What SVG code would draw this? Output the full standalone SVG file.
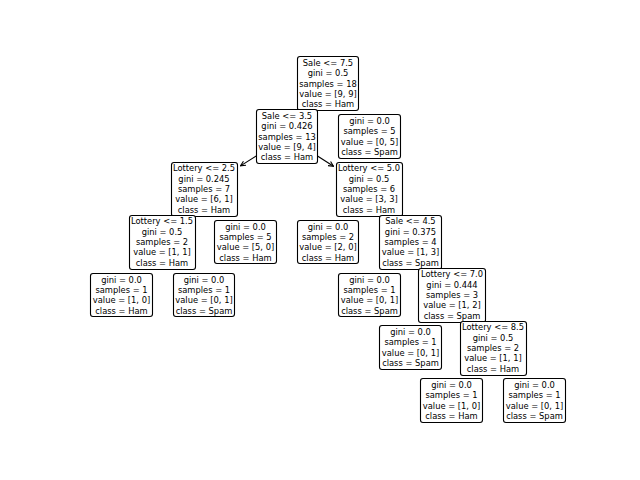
<svg xmlns="http://www.w3.org/2000/svg" width="640" height="480" viewBox="0 0 640 480">
  <style>
    .box { fill: #ffffff; stroke: #000000; stroke-width: 1.1; }
    .lbl { font-family: "DejaVu Sans", "Liberation Sans", sans-serif; font-size: 8.33px; text-anchor: middle; fill: #000000; }
    .edge { stroke: #000000; stroke-width: 1.1; fill: none; }
  </style>
  <defs>
    <marker id="head" viewBox="0 0 6 6" refX="5.5" refY="3" markerWidth="6" markerHeight="6" markerUnits="userSpaceOnUse" orient="auto">
      <path d="M0.5,0.6 L5.5,3 L0.5,5.4" fill="none" stroke="#000000" stroke-width="1.1"/>
    </marker>
  </defs>
  <rect width="640" height="480" fill="#ffffff"/>

  <!-- split edges: each runs from the parent's centre to the child's box -->
  <g id="edges">
    <line class="edge" x1="328" y1="83.5" x2="308.3" y2="109" marker-end="url(#head)"/>
    <line class="edge" x1="328" y1="83.5" x2="348.4" y2="109.5" marker-end="url(#head)"/>
    <line class="edge" x1="287" y1="136.5" x2="240.5" y2="165.9" marker-end="url(#head)"/>
    <line class="edge" x1="287" y1="136.5" x2="333.5" y2="166.3" marker-end="url(#head)"/>
    <line class="edge" x1="204" y1="189" x2="183.4" y2="215" marker-end="url(#head)"/>
    <line class="edge" x1="204" y1="189" x2="224.5" y2="215.5" marker-end="url(#head)"/>
    <line class="edge" x1="162" y1="242" x2="141.5" y2="268.5" marker-end="url(#head)"/>
    <line class="edge" x1="162" y1="242" x2="183" y2="268.5" marker-end="url(#head)"/>
    <line class="edge" x1="369" y1="189" x2="348.5" y2="215.5" marker-end="url(#head)"/>
    <line class="edge" x1="369" y1="189" x2="389" y2="215" marker-end="url(#head)"/>
    <line class="edge" x1="410" y1="242" x2="389.5" y2="268.5" marker-end="url(#head)"/>
    <line class="edge" x1="410" y1="242" x2="430.6" y2="268" marker-end="url(#head)"/>
    <line class="edge" x1="452" y1="295" x2="431.8" y2="320.5" marker-end="url(#head)"/>
    <line class="edge" x1="452" y1="295" x2="472" y2="321" marker-end="url(#head)"/>
    <line class="edge" x1="493" y1="348" x2="472.9" y2="373.5" marker-end="url(#head)"/>
    <line class="edge" x1="493" y1="348" x2="513.1" y2="373.5" marker-end="url(#head)"/>
  </g>

  <!-- tree nodes, drawn in pre-order -->
  <g id="node0">
    <rect class="box" x="297.5" y="56.5" width="61" height="54" rx="2.5"/>
    <text class="lbl" x="328" y="65.9"><tspan x="328">Sale &lt;= 7.5</tspan><tspan x="328" dy="10.3">gini = 0.5</tspan><tspan x="328" dy="10.3">samples = 18</tspan><tspan x="328" dy="10.3">value = [9, 9]</tspan><tspan x="328" dy="10.3">class = Ham</tspan></text>
  </g>
  <g id="node1">
    <rect class="box" x="256.5" y="109.5" width="61" height="54" rx="2.5"/>
    <text class="lbl" x="287" y="118.9"><tspan x="287">Sale &lt;= 3.5</tspan><tspan x="287" dy="10.3">gini = 0.426</tspan><tspan x="287" dy="10.3">samples = 13</tspan><tspan x="287" dy="10.3">value = [9, 4]</tspan><tspan x="287" dy="10.3">class = Ham</tspan></text>
  </g>
  <g id="node2">
    <rect class="box" x="171.5" y="162.5" width="66" height="54" rx="2.5"/>
    <text class="lbl" x="204" y="171.4"><tspan x="204">Lottery &lt;= 2.5</tspan><tspan x="204" dy="10.3">gini = 0.245</tspan><tspan x="204" dy="10.3">samples = 7</tspan><tspan x="204" dy="10.3">value = [6, 1]</tspan><tspan x="204" dy="10.3">class = Ham</tspan></text>
  </g>
  <g id="node3">
    <rect class="box" x="129.5" y="215.5" width="66" height="54" rx="2.5"/>
    <text class="lbl" x="162" y="224.4"><tspan x="162">Lottery &lt;= 1.5</tspan><tspan x="162" dy="10.3">gini = 0.5</tspan><tspan x="162" dy="10.3">samples = 2</tspan><tspan x="162" dy="10.3">value = [1, 1]</tspan><tspan x="162" dy="10.3">class = Ham</tspan></text>
  </g>
  <g id="node4">
    <rect class="box" x="90.5" y="273.5" width="62" height="43" rx="2.5"/>
    <text class="lbl" x="121.5" y="282.6"><tspan x="121.5">gini = 0.0</tspan><tspan x="121.5" dy="10.3">samples = 1</tspan><tspan x="121.5" dy="10.3">value = [1, 0]</tspan><tspan x="121.5" dy="10.3">class = Ham</tspan></text>
  </g>
  <g id="node5">
    <rect class="box" x="173.5" y="273.5" width="61" height="43" rx="2.5"/>
    <text class="lbl" x="204" y="282.6"><tspan x="204">gini = 0.0</tspan><tspan x="204" dy="10.3">samples = 1</tspan><tspan x="204" dy="10.3">value = [0, 1]</tspan><tspan x="204" dy="10.3">class = Spam</tspan></text>
  </g>
  <g id="node6">
    <rect class="box" x="214.5" y="220.5" width="62" height="43" rx="2.5"/>
    <text class="lbl" x="245.5" y="229.6"><tspan x="245.5">gini = 0.0</tspan><tspan x="245.5" dy="10.3">samples = 5</tspan><tspan x="245.5" dy="10.3">value = [5, 0]</tspan><tspan x="245.5" dy="10.3">class = Ham</tspan></text>
  </g>
  <g id="node7">
    <rect class="box" x="336.5" y="162.5" width="66" height="54" rx="2.5"/>
    <text class="lbl" x="369" y="171.4"><tspan x="369">Lottery &lt;= 5.0</tspan><tspan x="369" dy="10.3">gini = 0.5</tspan><tspan x="369" dy="10.3">samples = 6</tspan><tspan x="369" dy="10.3">value = [3, 3]</tspan><tspan x="369" dy="10.3">class = Ham</tspan></text>
  </g>
  <g id="node8">
    <rect class="box" x="297.5" y="220.5" width="61" height="43" rx="2.5"/>
    <text class="lbl" x="328" y="229.6"><tspan x="328">gini = 0.0</tspan><tspan x="328" dy="10.3">samples = 2</tspan><tspan x="328" dy="10.3">value = [2, 0]</tspan><tspan x="328" dy="10.3">class = Ham</tspan></text>
  </g>
  <g id="node9">
    <rect class="box" x="379.5" y="215.5" width="62" height="54" rx="2.5"/>
    <text class="lbl" x="410.5" y="224.4"><tspan x="410.5">Sale &lt;= 4.5</tspan><tspan x="410.5" dy="10.3">gini = 0.375</tspan><tspan x="410.5" dy="10.3">samples = 4</tspan><tspan x="410.5" dy="10.3">value = [1, 3]</tspan><tspan x="410.5" dy="10.3">class = Spam</tspan></text>
  </g>
  <g id="node10">
    <rect class="box" x="338.5" y="273.5" width="62" height="43" rx="2.5"/>
    <text class="lbl" x="369.5" y="282.6"><tspan x="369.5">gini = 0.0</tspan><tspan x="369.5" dy="10.3">samples = 1</tspan><tspan x="369.5" dy="10.3">value = [0, 1]</tspan><tspan x="369.5" dy="10.3">class = Spam</tspan></text>
  </g>
  <g id="node11">
    <rect class="box" x="418.5" y="268.5" width="67" height="54" rx="2.5"/>
    <text class="lbl" x="452" y="277.4"><tspan x="452">Lottery &lt;= 7.0</tspan><tspan x="452" dy="10.3">gini = 0.444</tspan><tspan x="452" dy="10.3">samples = 3</tspan><tspan x="452" dy="10.3">value = [1, 2]</tspan><tspan x="452" dy="10.3">class = Spam</tspan></text>
  </g>
  <g id="node12">
    <rect class="box" x="379.5" y="325.5" width="62" height="44" rx="2.5"/>
    <text class="lbl" x="410.5" y="335.1"><tspan x="410.5">gini = 0.0</tspan><tspan x="410.5" dy="10.3">samples = 1</tspan><tspan x="410.5" dy="10.3">value = [0, 1]</tspan><tspan x="410.5" dy="10.3">class = Spam</tspan></text>
  </g>
  <g id="node13">
    <rect class="box" x="460.5" y="321.5" width="66" height="54" rx="2.5"/>
    <text class="lbl" x="493" y="330.4"><tspan x="493">Lottery &lt;= 8.5</tspan><tspan x="493" dy="10.3">gini = 0.5</tspan><tspan x="493" dy="10.3">samples = 2</tspan><tspan x="493" dy="10.3">value = [1, 1]</tspan><tspan x="493" dy="10.3">class = Ham</tspan></text>
  </g>
  <g id="node14">
    <rect class="box" x="420.5" y="378.5" width="62" height="44" rx="2.5"/>
    <text class="lbl" x="451.5" y="388.1"><tspan x="451.5">gini = 0.0</tspan><tspan x="451.5" dy="10.3">samples = 1</tspan><tspan x="451.5" dy="10.3">value = [1, 0]</tspan><tspan x="451.5" dy="10.3">class = Ham</tspan></text>
  </g>
  <g id="node15">
    <rect class="box" x="503.5" y="378.5" width="62" height="44" rx="2.5"/>
    <text class="lbl" x="534.5" y="388.1"><tspan x="534.5">gini = 0.0</tspan><tspan x="534.5" dy="10.3">samples = 1</tspan><tspan x="534.5" dy="10.3">value = [0, 1]</tspan><tspan x="534.5" dy="10.3">class = Spam</tspan></text>
  </g>
  <g id="node16">
    <rect class="box" x="338.5" y="114.5" width="62" height="44" rx="2.5"/>
    <text class="lbl" x="369.5" y="124.1"><tspan x="369.5">gini = 0.0</tspan><tspan x="369.5" dy="10.3">samples = 5</tspan><tspan x="369.5" dy="10.3">value = [0, 5]</tspan><tspan x="369.5" dy="10.3">class = Spam</tspan></text>
  </g>
</svg>
